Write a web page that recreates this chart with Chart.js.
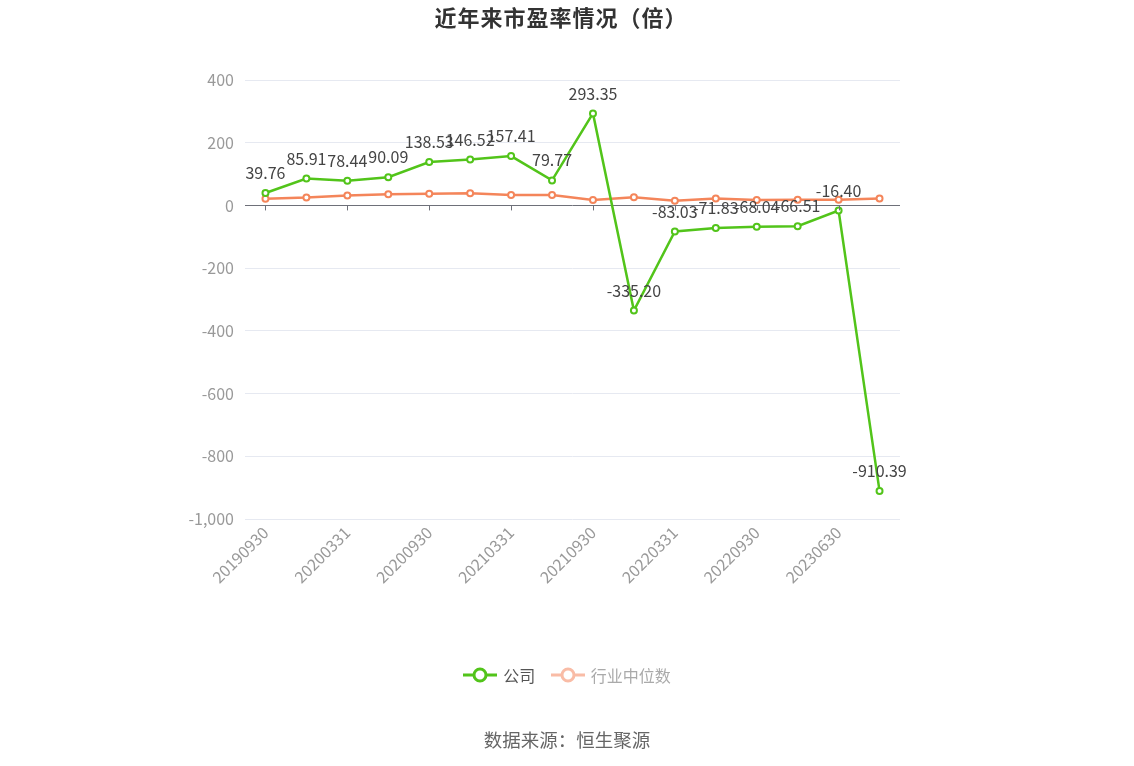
<!DOCTYPE html>
<html>
<head>
<meta charset="utf-8">
<script src="https://cdn.jsdelivr.net/npm/chart.js@4.4.0/dist/chart.umd.min.js"></script>
<style>
  html, body { margin: 0; padding: 0; background: #fff; }
  body { width: 1134px; height: 766px; position: relative; overflow: hidden;
         font-family: "Noto Sans CJK SC", "Noto Sans", sans-serif; }
  #wrap { position: absolute; left: 0; top: 0; width: 1134px; height: 766px; }
  #title { position: absolute; left: 0; width: 1122px; top: 0px; text-align: center;
           font-size: 22px; letter-spacing: 1px; font-weight: bold; color: #333; }
  #legend { position: absolute; left: 0; width: 1134px; top: 663px; text-align: center;
            font-size: 16px; }
  .item { display: inline-flex; align-items: center; margin: 0 6px; }
  .item svg { margin-right: 6px; }
  #source { position: absolute; left: 0; width: 1134px; top: 726px; text-align: center;
            font-size: 18.5px; color: #666; }
</style>
</head>
<body>
<div id="wrap"><canvas id="c" width="1134" height="766"></canvas></div>
<div id="title">近年来市盈率情况（倍）</div>
<div id="legend">
  <span class="item"><svg width="34" height="20"><line x1="0" y1="10" x2="34" y2="10" stroke="#52c41a" stroke-width="3"/><circle cx="17" cy="10" r="6" fill="#fff" stroke="#52c41a" stroke-width="3"/></svg><span style="color:#555">公司</span></span>
  <span class="item"><svg width="34" height="20"><line x1="0" y1="10" x2="34" y2="10" stroke="#f9bca6" stroke-width="3"/><circle cx="17" cy="10" r="6" fill="#fff" stroke="#f9bca6" stroke-width="3"/></svg><span style="color:#aaa">行业中位数</span></span>
</div>
<div id="source">数据来源：恒生聚源</div>
<script>
const categories = ["20190930","20191231","20200331","20200630","20200930","20201231","20210331","20210630","20210930","20211231","20220331","20220630","20220930","20221231","20230630","20230930"];
const companyPE = [39.76, 85.91, 78.44, 90.09, 138.53, 146.52, 157.41, 79.77, 293.35, -335.20, -83.03, -71.83, -68.04, -66.51, -16.40, -910.39];
const industryPE = [21, 25, 32, 36, 37, 39, 33, 33, 17, 26, 15, 22, 17, 18, 18, 22];
const yTicks = [-1000, -800, -600, -400, -200, 0, 200, 400];

const green = '#52c41a';
const orange = '#f4855a';
const FONT = '"Noto Sans CJK SC", "Noto Sans", sans-serif';

const extrasPlugin = {
  id: 'extras',
  afterDatasetsDraw(chart) {
    const ctx = chart.ctx;
    const x = chart.scales.x, y = chart.scales.y;
    const y0 = y.getPixelForValue(0);
    ctx.save();
    ctx.strokeStyle = '#6e7079';
    ctx.lineWidth = 1;
    for (let i = 0; i < categories.length; i += 2) {
      const px = Math.round(x.getPixelForValue(i)) + 0.5;
      ctx.beginPath();
      ctx.moveTo(px, y0);
      ctx.lineTo(px, y0 + 5);
      ctx.stroke();
    }
    const meta = chart.getDatasetMeta(0);
    ctx.font = '16px ' + FONT;
    ctx.fillStyle = '#444';
    ctx.textAlign = 'center';
    ctx.textBaseline = 'middle';
    meta.data.forEach((pt, i) => {
      ctx.fillText(companyPE[i].toFixed(2), pt.x, pt.y - 20);
    });
    ctx.restore();
  }
};

new Chart(document.getElementById('c'), {
  type: 'line',
  data: {
    labels: categories,
    datasets: [
      { label: '公司', data: companyPE, borderColor: green, backgroundColor: '#fff',
        borderWidth: 2.5, pointRadius: 3, pointBorderWidth: 2, pointBackgroundColor: '#fff',
        pointBorderColor: green, tension: 0 },
      { label: '行业中位数', data: industryPE, borderColor: orange, backgroundColor: '#fff',
        borderWidth: 2.5, pointRadius: 3, pointBorderWidth: 2, pointBackgroundColor: '#fff',
        pointBorderColor: orange, tension: 0 }
    ]
  },
  options: {
    responsive: false,
    animation: false,
    layout: { padding: { left: 0, right: 234, top: 80, bottom: 167 } },
    plugins: { legend: { display: false }, title: { display: false }, tooltip: { enabled: false } },
    scales: {
      x: {
        offset: true,
        grid: { display: false },
        border: { display: false },
        afterFit(s) { s.height = 80; },
        ticks: {
          autoSkip: false, maxRotation: 45, minRotation: 45, padding: -4,
          color: '#999', font: { size: 16, family: FONT },
          callback(v, i) { return i % 2 === 0 ? categories[i] : ''; }
        }
      },
      y: {
        min: -1000, max: 400,
        afterFit(s) { s.width = 245; },
        afterBuildTicks(s) { s.ticks = yTicks.map(v => ({ value: v })); },
        border: { display: false },
        grid: {
          drawTicks: false,
          color(c) { return c.tick && c.tick.value === 0 ? '#6e7079' : '#e6e9f1'; },
          lineWidth: 1
        },
        ticks: {
          padding: 11, color: '#999',
          font: { size: 16, family: FONT },
          callback(v) { return v.toLocaleString('en-US'); }
        }
      }
    }
  },
  plugins: [extrasPlugin]
});
</script>
</body>
</html>
